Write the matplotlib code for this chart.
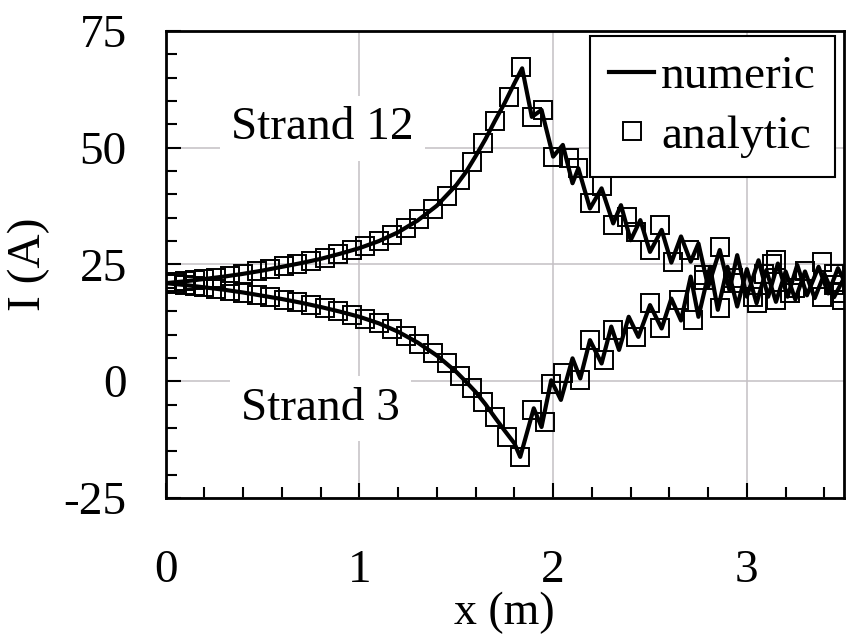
import matplotlib
matplotlib.use('Agg')
import matplotlib.pyplot as plt
from matplotlib.ticker import MultipleLocator

plt.rcParams['font.family'] = ['Liberation Serif', 'DejaVu Serif']
plt.rcParams['axes.unicode_minus'] = False

# numeric solution, strand 12
x12 = [0.0, 0.1, 0.2, 0.3, 0.4, 0.5, 0.6, 0.7, 0.8, 0.9, 1.0, 1.1, 1.2, 1.3, 1.4,
       1.5, 1.55, 1.6, 1.65, 1.7, 1.75, 1.8, 1.84, 1.89, 1.94, 2.00, 2.05, 2.10,
       2.13, 2.19, 2.25, 2.31, 2.35, 2.40, 2.45, 2.50, 2.56, 2.61, 2.66, 2.71,
       2.75, 2.80, 2.86, 2.91, 2.95, 3.00, 3.06, 3.11, 3.16, 3.21, 3.26, 3.31,
       3.37, 3.42, 3.47, 3.50]
y12 = [21.0, 21.4, 21.9, 22.4, 23.0, 23.7, 24.5, 25.3, 26.2, 27.3, 28.5, 30.0, 31.9,
       34.4, 37.6, 42.0, 44.8, 48.2, 51.8, 55.8, 59.6, 63.8, 67.0, 56.6, 58.1, 48.1,
       50.6, 42.4, 45.6, 37.0, 41.3, 33.8, 37.7, 30.2, 34.5, 27.7, 32.4, 25.4, 31.0,
       25.6, 29.5, 20.2, 28.1, 19.5, 27.0, 18.1, 25.9, 18.1, 25.2, 18.1, 24.9, 18.4,
       24.5, 18.8, 24.2, 21.7]

# numeric solution, strand 3
x3 = [0.0, 0.1, 0.2, 0.3, 0.4, 0.5, 0.6, 0.7, 0.8, 0.9, 1.0, 1.1, 1.2, 1.3, 1.4,
      1.5, 1.55, 1.6, 1.65, 1.7, 1.75, 1.8, 1.83, 1.90, 1.94, 1.99, 2.04, 2.10,
      2.14, 2.19, 2.25, 2.30, 2.34, 2.39, 2.44, 2.50, 2.56, 2.61, 2.66, 2.71,
      2.75, 2.81, 2.85, 2.90, 2.95, 3.00, 3.05, 3.10, 3.15, 3.20, 3.25, 3.30,
      3.35, 3.40, 3.45, 3.50]
y3 = [21.0, 20.6, 20.1, 19.6, 19.0, 18.3, 17.6, 16.8, 15.9, 14.9, 13.8, 12.4, 10.6,
      8.3, 5.5, 2.0, -0.1, -2.3, -4.9, -7.8, -10.6, -13.3, -16.2, -5.8, -9.8, 0.2,
      -4.0, 4.9, 0.6, 8.8, 3.8, 11.7, 6.7, 13.8, 9.5, 16.3, 11.3, 17.7, 13.0, 22.4,
      13.8, 24.5, 15.3, 24.5, 16.0, 24.0, 16.7, 23.8, 17.0, 23.5, 17.5, 23.5, 17.8,
      23.0, 18.0, 22.0]

# analytic solution, strand 12
ax12 = [0.00, 0.05, 0.10, 0.15, 0.20, 0.26, 0.33, 0.40, 0.47, 0.54, 0.61, 0.68,
        0.75, 0.82, 0.89, 0.96, 1.03, 1.10, 1.17, 1.24, 1.31, 1.38, 1.45, 1.52,
        1.58, 1.64, 1.70, 1.77, 1.835, 1.89, 1.95, 2.00, 2.08, 2.13, 2.19, 2.25,
        2.31, 2.38, 2.43, 2.50, 2.55, 2.62, 2.70, 2.78, 2.86, 2.93, 3.03, 3.09,
        3.15, 3.22, 3.30, 3.39, 3.45, 3.49]
ay12 = [21.0, 21.2, 21.4, 21.6, 21.9, 22.2, 22.6, 23.0, 23.5, 24.0, 24.6, 25.1,
        25.7, 26.4, 27.2, 28.0, 28.9, 30.0, 31.3, 32.8, 34.7, 36.9, 39.6, 43.1,
        46.9, 51.1, 55.8, 60.9, 67.2, 56.6, 58.1, 48.1, 47.7, 45.6, 38.1, 41.7,
        33.4, 35.2, 32.0, 28.1, 33.4, 25.6, 28.0, 21.7, 28.8, 22.0, 18.1, 23.0,
        25.9, 19.0, 23.5, 25.6, 20.5, 17.4]

# analytic solution, strand 3
ax3 = [0.00, 0.05, 0.10, 0.15, 0.20, 0.26, 0.33, 0.40, 0.47, 0.54, 0.61, 0.68,
       0.75, 0.82, 0.89, 0.96, 1.03, 1.10, 1.17, 1.24, 1.31, 1.38, 1.45, 1.52,
       1.58, 1.64, 1.70, 1.76, 1.83, 1.89, 1.96, 1.99, 2.05, 2.14, 2.19, 2.26,
       2.31, 2.43, 2.50, 2.55, 2.65, 2.72, 2.78, 2.86, 2.93, 3.05, 3.13, 3.15,
       3.25, 3.39, 3.45, 3.49]
ay3 = [21.0, 20.8, 20.6, 20.4, 20.1, 19.8, 19.4, 19.0, 18.5, 18.0, 17.5, 17.0,
       16.3, 15.7, 15.0, 14.2, 13.4, 12.4, 11.1, 9.7, 8.0, 6.1, 3.8, 1.1, -1.5,
       -4.5, -7.6, -11.9, -16.2, -6.2, -8.7, -0.5, 1.7, 0.3, 8.8, 4.5, 11.0, 9.5,
       16.7, 11.3, 17.4, 13.1, 22.7, 15.6, 21.0, 16.7, 25.2, 17.4, 20.0, 18.1,
       23.0, 18.8]

fs = 34

fig = plt.figure(figsize=(8.54, 6.39), dpi=100)
ax = fig.add_axes([0.194, 0.2207, 0.794, 0.7308])

ax.plot(x12, y12, color='black', lw=3, label='numeric', zorder=3)
ax.plot(x3, y3, color='black', lw=3, zorder=3)
ax.plot(ax12, ay12, ls='none', marker='s', ms=12.5, mfc='none', mec='black',
        mew=1.4, label='analytic', zorder=4)
ax.plot(ax3, ay3, ls='none', marker='s', ms=12.5, mfc='none', mec='black',
        mew=1.4, zorder=4)

ax.set_xlim(0, 3.5)
ax.set_ylim(-25, 75)
ax.set_xticks([0, 1, 2, 3])
ax.set_yticks([-25, 0, 25, 50, 75])
ax.xaxis.set_minor_locator(MultipleLocator(0.2))
ax.yaxis.set_minor_locator(MultipleLocator(5))
ax.tick_params(which='both', direction='in', top=False, right=False, width=1.5,
               labelsize=fs)
ax.tick_params(which='major', length=11)
ax.tick_params(which='minor', length=8)
ax.tick_params(axis='x', which='major', pad=37)
ax.tick_params(axis='y', which='major', pad=28)
ax.grid(True, which='major', color='#c4c0c4', lw=1.1, zorder=0)
for s in ax.spines.values():
    s.set_linewidth(2)

ax.set_xlabel('x (m)', fontsize=33)
ax.xaxis.set_label_coords(0.5, -0.2)
ax.set_ylabel('I (A)', fontsize=fs)
ax.yaxis.set_label_coords(-0.17, 0.5)

ax.text(0.81, 54.2, 'Strand 12', fontsize=fs, ha='center', va='center', zorder=2,
        bbox=dict(facecolor='white', edgecolor='none', pad=8))
ax.text(0.80, -5.8, 'Strand 3', fontsize=fs, ha='center', va='center', zorder=2,
        bbox=dict(facecolor='white', edgecolor='none', pad=8))

leg = ax.legend(loc='upper right', bbox_to_anchor=(0.987, 0.989), fontsize=fs,
                frameon=True, fancybox=False, framealpha=1, edgecolor='black',
                handlelength=0.95, handletextpad=0.15, borderpad=0.4,
                labelspacing=0.35, borderaxespad=0, markerscale=1.0)
leg.get_frame().set_linewidth(1.5)
leg.set_zorder(5)

fig.savefig('out.png', dpi=100)
